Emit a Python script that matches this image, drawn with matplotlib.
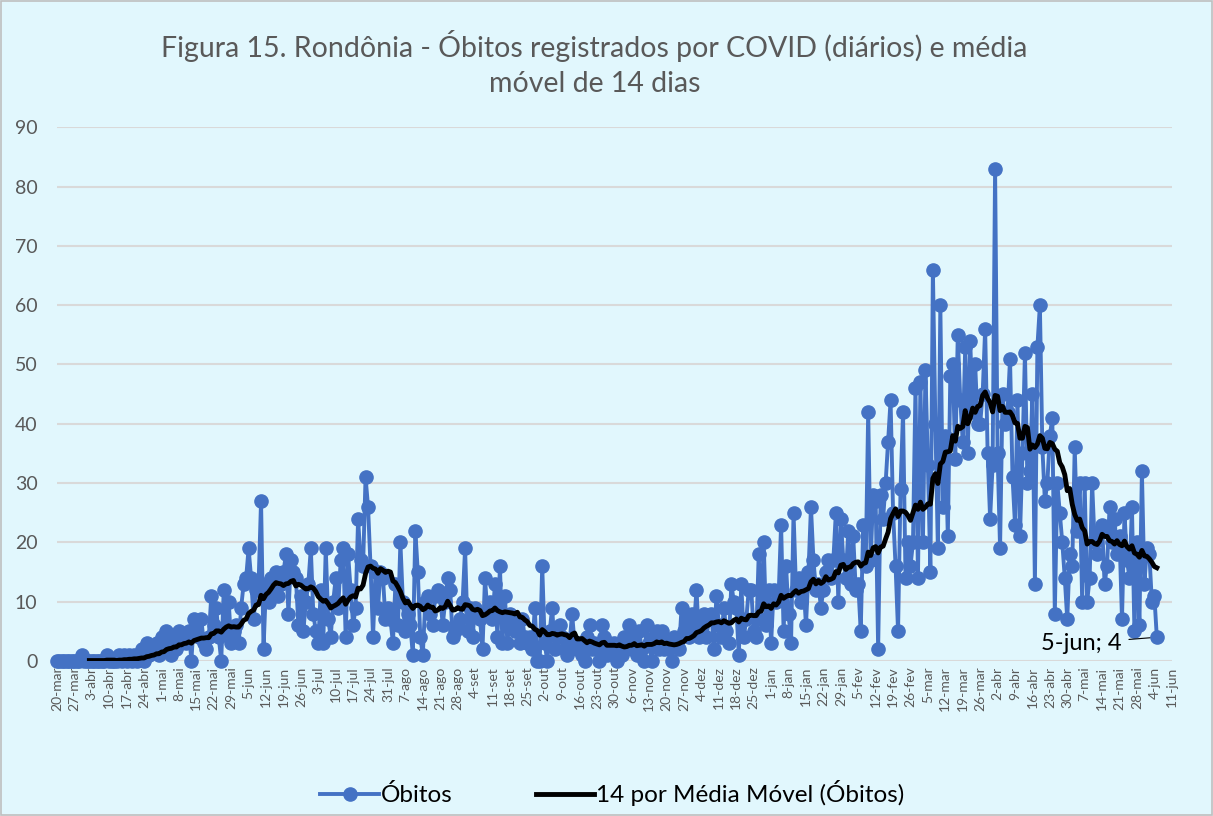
import numpy as np
import pandas as pd
import matplotlib
matplotlib.use('Agg')
import matplotlib.pyplot as plt

plt.rcParams['font.family'] = ['Lato', 'DejaVu Sans']

# Óbitos diários, de 20-mar-2020 a 5-jun-2021
obitos_mar20 = [0, 0, 0, 0, 0, 0, 0, 0, 0, 0, 1, 0]
obitos_abr20 = [0, 0, 0, 0, 0, 0, 0, 0, 1, 0, 0, 0, 0, 1, 0, 1, 0, 1, 0, 1, 0, 1, 2,
                0, 3, 1, 2, 2, 3, 1]
obitos_mai20 = [4, 2, 5, 3, 1, 4, 2, 5, 3, 4, 3, 5, 0, 7, 6, 4, 7, 3, 2, 4, 11,
                6, 9, 4, 0, 12, 5, 10, 3, 5, 6]
obitos_jun20 = [3, 9, 13, 14, 19, 14, 7, 12, 13, 27, 2, 13, 10, 14, 12, 15, 11, 13,
                15, 18, 8, 17, 15, 14, 6, 11, 5, 10, 13, 19]
obitos_jul20 = [8, 5, 3, 12, 3, 19, 7, 4, 10, 14, 9, 17, 19, 4, 18, 12,
                6, 9, 24, 17, 16, 31, 26, 16, 4, 15, 9, 15, 14, 7, 9]
obitos_ago20 = [7, 3, 13, 6, 20, 10, 5, 8, 6, 1, 22, 15, 4, 1, 10, 11, 8, 6, 11, 12,
                11, 6, 10, 14, 12, 4, 5, 6, 7, 10, 19]
obitos_set20 = [5, 9, 4, 9, 8, 7, 2, 14, 8, 10, 7, 13, 4, 16, 3, 11, 3,
                8, 7, 5, 6, 3, 7, 4, 3, 4, 2, 9, 0, 0]
obitos_out20 = [16, 3, 0, 5, 9, 2, 4, 6, 4, 2, 1, 3, 8, 3, 2, 3, 1, 0, 4, 6, 2, 3,
                2, 0, 6, 4, 1, 3, 2, 3, 0]
obitos_nov20 = [2, 1, 4, 3, 6, 2, 4, 1, 5, 2, 0, 6, 3, 0, 4, 5, 2, 5, 2,
                3, 2, 0, 4, 3, 2, 9, 5, 7, 4, 8]
obitos_dez20 = [6, 12, 4, 6, 8, 4, 7, 8, 2, 11, 6, 4, 9, 5, 3, 13, 10,
                9, 1, 13, 4, 7, 12, 12, 5, 4, 18, 7, 20, 6, 12]
obitos_jan21 = [3, 12, 10, 11, 23, 5, 16, 8, 3, 25, 12, 14, 10, 13, 6, 15, 26, 17, 12,
                13, 9, 12, 15, 17, 14, 17, 25, 10, 24, 17, 14]
obitos_fev21 = [22, 13, 21, 12, 13, 5, 23, 16, 42, 17, 28, 27, 2, 28, 24, 30, 37, 44,
                25, 16, 5, 29, 42, 14, 20, 16, 20, 46]
obitos_mar21 = [14, 47, 20, 49, 33, 15, 66, 40, 19, 60, 26, 38, 21, 48, 50, 34, 55, 44,
                37, 53, 35, 54, 42, 50, 40, 40, 45, 56, 35, 24, 33]
obitos_abr21 = [83, 35, 19, 45, 40, 42, 51, 31, 23, 44, 21, 35, 52, 30, 32,
                45, 13, 53, 60, 36, 27, 30, 38, 41, 8, 30, 25, 20, 14, 7]
obitos_mai21 = [18, 16, 36, 22, 30, 10, 30, 10, 14, 30, 20, 18, 22, 23, 13, 16, 26, 20,
                24, 18, 21, 7, 25, 17, 14, 26, 5, 20, 6, 32, 13]
obitos_jun21 = [19, 18, 10, 11, 4]

meses = ['jan', 'fev', 'mar', 'abr', 'mai', 'jun', 'jul', 'ago', 'set', 'out', 'nov', 'dez']

obitos = (obitos_mar20 + obitos_abr20 + obitos_mai20 + obitos_jun20 + obitos_jul20 +
          obitos_ago20 + obitos_set20 + obitos_out20 + obitos_nov20 + obitos_dez20 +
          obitos_jan21 + obitos_fev21 + obitos_mar21 + obitos_abr21 + obitos_mai21 +
          obitos_jun21)

datas = pd.date_range('2020-03-20', periods=len(obitos), freq='D')
df = pd.DataFrame({'data': datas, 'obitos': obitos})
df['media'] = df['obitos'].rolling(14).mean()
dia = np.arange(len(df))

azul = '#4472C4'
cinza = '#595959'
fundo = '#E1F7FD'

fig = plt.figure(figsize=(12.13, 8.16), dpi=100, facecolor=fundo)
ax = fig.add_axes([0.047, 0.19, 0.919, 0.654])
ax.set_facecolor(fundo)

ax.plot(dia, df['obitos'], color=azul, lw=2.8, marker='o', ms=9.5,
        label='Óbitos', clip_on=False, zorder=3)
ax.plot(dia, df['media'], color='black', lw=3.5,
        label='14 por Média Móvel (Óbitos)', zorder=4)

# eixo x: um rótulo a cada 7 dias
ticks_dt = pd.date_range('2020-03-20', '2021-06-11', freq='7D')
ticks = [(t - datas[0]).days for t in ticks_dt]
ax.set_xticks(ticks)
ax.set_xticklabels([f'{t.day}-{meses[t.month - 1]}' for t in ticks_dt],
                   rotation=90, fontsize=10, color=cinza)
ax.set_xlim(0, ticks[-1])

ax.set_ylim(0, 90)
ax.set_yticks(range(0, 91, 10))
ax.tick_params(axis='y', labelsize=14, colors=cinza, length=0, pad=14)
ax.tick_params(axis='x', length=0, pad=4)
ax.grid(axis='y', color='#D9D9D9', lw=1.5)
ax.set_axisbelow(True)
for s in ax.spines.values():
    s.set_visible(False)

# rótulo do último ponto
ultimo = len(df) - 1
ax.annotate(f"{datas[ultimo].day}-{meses[datas[ultimo].month - 1]}; {obitos[ultimo]}",
            xy=(ultimo, obitos[ultimo]), xytext=(428, 3), ha='right', va='center',
            fontsize=17, color='black',
            arrowprops=dict(arrowstyle='-', color='black', lw=0.8,
                            shrinkA=3, shrinkB=5))

fig.text(0.49, 0.944, 'Figura 15. Rondônia - Óbitos registrados por COVID (diários) e média',
         ha='center', va='center', fontsize=20.5, color=cinza)
fig.text(0.49, 0.897, 'móvel de 14 dias', ha='center', va='center', fontsize=20.5, color=cinza)

fig.legend(loc='center', bbox_to_anchor=(0.505, 0.028), ncol=2, frameon=False,
           fontsize=17.5, handlelength=2.4, columnspacing=3.4, handletextpad=0.1)

fig.add_artist(plt.Rectangle((0.001, 0.001), 0.998, 0.998, transform=fig.transFigure,
                             fill=False, edgecolor='#BFBFBF', lw=1.2))

fig.savefig('out.png', dpi=100, facecolor=fundo)
